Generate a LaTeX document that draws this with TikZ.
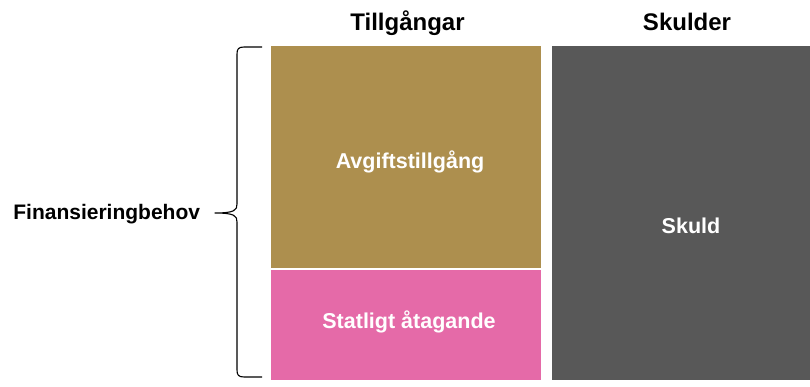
\documentclass[tikz,border=0pt]{standalone}
\usepackage{fontspec}
\setmainfont{Liberation Sans}
\definecolor{goldc}{RGB}{173,143,78}
\definecolor{pinkc}{RGB}{229,106,168}
\definecolor{grayc}{RGB}{88,88,88}
\begin{document}
\begin{tikzpicture}[x=1pt,y=-1pt,
  block/.style={inner sep=0pt, outer sep=0pt, draw=none},
  head/.style={anchor=base, inner sep=0pt, font=\fontsize{24}{24}\selectfont\bfseries, text=black},
  lbl/.style={anchor=base, inner sep=0pt, font=\fontsize{21.5}{21.5}\selectfont\bfseries, text=white},
  side/.style={anchor=base, inner sep=0pt, font=\fontsize{21}{21}\selectfont\bfseries, text=black},
  bracepath/.style={draw=black, line width=1.1pt, line join=round}]
\useasboundingbox (0,0) rectangle (810,387);
% blocks
\node[block, fill=goldc, minimum width=270pt, minimum height=222pt] (gold) at (406,157) {};
\node[block, fill=pinkc, minimum width=270pt, minimum height=110pt] (pink) at (406,325) {};
\node[block, fill=grayc, minimum width=258pt, minimum height=334pt] (gray) at (681,213) {};
% labels
\node[head] (h1) at (407.5,31) {Tillgångar};
\node[head] (h2) at (687,31) {Skulder};
\node[lbl] (l1) at (410,168.5) {Avgiftstillgång};
\node[lbl] (l2) at (409,328) {Statligt åtagande};
\node[lbl] (l3) at (691,233.5) {Skuld};
\node[side] (fin) at (106.7,220) {Finansieringbehov};
% brace
\coordinate (bt) at (262,47);
\coordinate (bb) at (262,377);
\coordinate (bm) at (215,213);
\draw[bracepath] (bt) -- (244,47) .. controls (238.5,47) and (237,49) .. (237,54)
  -- (237,204) .. controls (237,210) and (235,213) .. (bm)
  .. controls (235,213) and (237,216) .. (237,222)
  -- (237,370) .. controls (237,375) and (238.5,377) .. (244,377) -- (bb);
\end{tikzpicture}
\end{document}
